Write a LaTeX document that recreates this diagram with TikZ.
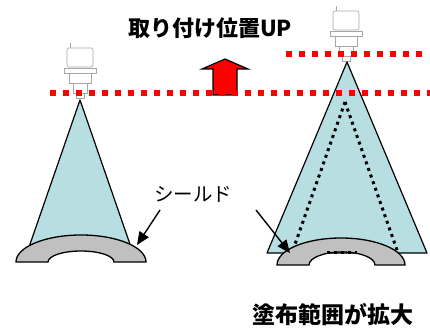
\documentclass[tikz,border=0pt]{standalone}
\usepackage{fontspec}
\newfontfamily\jpfont{Noto Sans CJK JP}
\usetikzlibrary{arrows.meta}
\definecolor{conecyan}{RGB}{183,222,224}
\definecolor{shieldgray}{RGB}{192,192,192}
\tikzstyle{cone} = [draw=black, line width=1.2pt, fill=conecyan, line join=round]
\tikzstyle{shield} = [draw=black, line width=1.3pt, fill=shieldgray]
\tikzstyle{reddots} = [draw=red, line width=6pt, dash pattern=on 6pt off 7pt]
\tikzstyle{blackdots} = [draw=black, line width=3pt, dash pattern=on 3pt off 4pt]
\tikzstyle{pointer} = [line width=1.4pt, -{Triangle[length=13pt,width=11pt]}]
\tikzstyle{gun} = [draw=gray!70, line width=0.6pt, fill=white]

% spray gun, #1 is the nozzle tip
\def\sprayhead(#1){
\begin{scope}[shift={(#1)}]
\draw[gun] (-10,-55)--(-10,-49);
\draw[gun, rounded corners=2pt] (-13,-50) rectangle (13,-31);
\draw[gun] (-16,-30) rectangle (16,-25);
\draw[gun] (-11,-25) rectangle (11,-15);
\draw[gun] (-7,-15) rectangle (7,-5);
\draw[gun] (-4,-5) rectangle (4,0);
\end{scope}
}

\begin{document}
\begin{tikzpicture}[x=1pt,y=-1pt]
\useasboundingbox (0,0) rectangle (430,328);
\sprayhead(80,98)
\sprayhead(346,61)
% spray cones
\draw[cone] (80,100)--(28,250)--(132,250)--cycle;
\draw[cone] (347,62)--(267,253)--(427,253)--cycle;
% raise arrow
\draw[fill=red, line width=1.2pt, line join=miter] (213,95)--(213,69)--(202,69)--(225,59)--(248,69)--(237,69)--(237,95)--cycle;
% mounting heights
\draw[reddots] (50,93)--(430,93);
\draw[reddots] (286,54)--(426,54);
% old cone inside the new one
\draw[blackdots] (345,102)--(293,250);
\draw[blackdots] (345,102)--(397,250);
% shields
\draw[shield] (16,262) arc (180:360:65 and 27) -- (114,262) arc (0:-180:33 and 11) -- cycle;
\draw[shield] (277,265) arc (180:360:64 and 27) -- (375,265) arc (0:-180:33 and 13) -- cycle;
\draw[blackdots] (327,252)--(357,252);
% labels
\node[font=\jpfont\bfseries\fontsize{22}{22}\selectfont] (title) at (210,28) {取り付け位置UP};
\node[font=\jpfont\fontsize{19.5}{20}\selectfont] (shieldlbl) at (193,194) {シールド};
\node[font=\jpfont\bfseries\fontsize{23}{23}\selectfont] (result) at (333,315) {塗布範囲が拡大};
\coordinate (tailL) at (160,210);
\coordinate (tipL) at (137,245);
\coordinate (tailR) at (256,210);
\coordinate (tipR) at (290,253);
\draw[pointer] (tailL)--(tipL);
\draw[pointer] (tailR)--(tipR);
\end{tikzpicture}
\end{document}
